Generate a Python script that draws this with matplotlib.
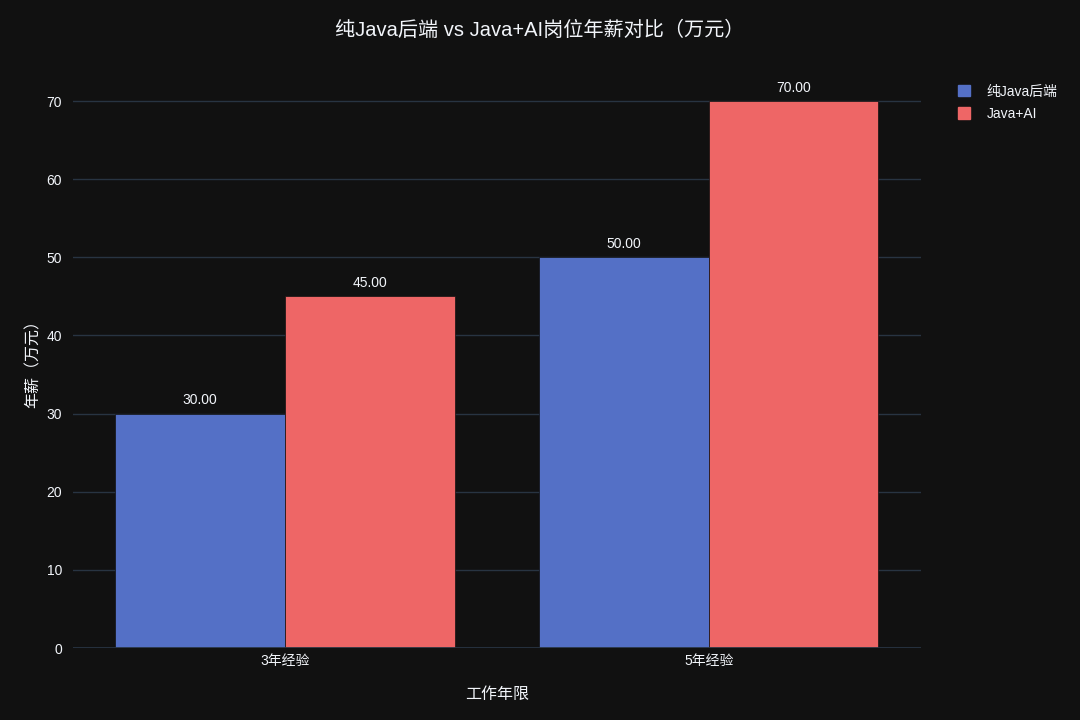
import numpy as np
import matplotlib
matplotlib.use("Agg")
import matplotlib.pyplot as plt
from matplotlib.patches import Patch

plt.rcParams['font.family'] = ['Liberation Sans', 'Noto Sans CJK SC']

categories = ['3年经验', '5年经验']
series_names = ['纯Java后端', 'Java+AI']
java_only = [30, 50]
java_ai = [45, 70]
colors = ['#5470c6', '#ee6666']

bg = '#111111'
grid = '#283442'
txt = '#f2f5fa'

fig = plt.figure(figsize=(10.8, 7.2), dpi=100, facecolor=bg)
ax = fig.add_axes([0.0676, 0.1, 0.785, 0.7996], facecolor=bg)

x = np.arange(len(categories))
w = 0.4
for i, (vals, c) in enumerate(zip([java_only, java_ai], colors)):
    b = ax.bar(x + (i - 0.5) * w, vals, w, color=c, edgecolor=bg,
               linewidth=0.5, label=series_names[i], zorder=3)
    for rect, v in zip(b, vals):
        ax.text(rect.get_x() + rect.get_width() / 2, v + 0.8, f'{v:.2f}',
                ha='center', va='bottom', color=txt, fontsize=10)

ax.set_xlim(-0.5, len(categories) - 0.5)
ax.set_ylim(0, max(java_ai) * 1.0526)
ax.set_yticks(np.arange(0, 71, 10))
ax.set_xticks(x)
ax.set_xticklabels(categories)
ax.grid(axis='y', color=grid, linewidth=1, zorder=0)
ax.axhline(0, color=grid, linewidth=2, zorder=4)
for s in ax.spines.values():
    s.set_visible(False)
ax.tick_params(axis='both', length=0, colors=txt, labelsize=10)
ax.tick_params(axis='y', pad=8)
ax.tick_params(axis='x', pad=4)

ax.set_xlabel('工作年限', color=txt, fontsize=11.5, labelpad=14)
ax.set_ylabel('年薪（万元）', color=txt, fontsize=11.5, labelpad=4)

fig.text(0.5, 0.958, '纯Java后端 vs Java+AI岗位年薪对比（万元）', ha='center',
         va='center', color=txt, fontsize=14.5)

handles = [Patch(facecolor=c, edgecolor=c) for c in colors]
fig.legend(handles, series_names, loc='upper left', bbox_to_anchor=(0.875, 0.9),
           frameon=False, labelcolor=txt, fontsize=10, handlelength=0.9,
           handleheight=0.9, handletextpad=1.2, labelspacing=0.6)

fig.savefig('out.png', dpi=100, facecolor=bg)
